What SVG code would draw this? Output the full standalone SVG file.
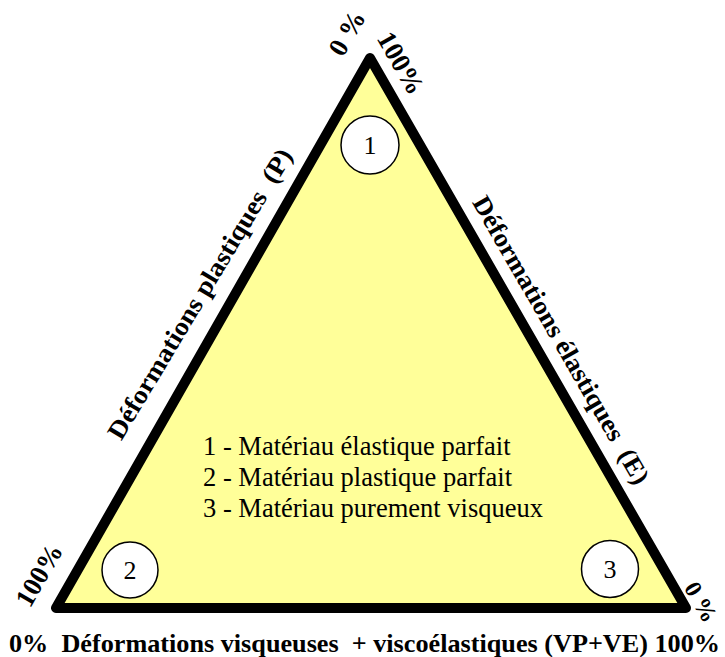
<svg xmlns="http://www.w3.org/2000/svg" width="725" height="657" viewBox="0 0 725 657">
<style>
.b{font-family:"Liberation Serif","Times New Roman",serif;font-weight:bold;fill:#000;white-space:pre}
.r{font-family:"Liberation Serif","Times New Roman",serif;fill:#000}
.c{fill:#fff;stroke:#000;stroke-width:1.5}
</style>
<rect width="725" height="657" fill="#fff"/>
<g id="triangle">
<polygon points="370,58 56,608 686,608" fill="#ffff99" stroke="#000" stroke-width="10" stroke-linejoin="round"/>
</g>
<g id="node1"><circle class="c" cx="370" cy="145" r="29"/><text class="r" x="370" y="154" font-size="26" text-anchor="middle">1</text></g>
<g id="node2"><circle class="c" cx="130" cy="570" r="28"/><text class="r" x="130" y="579" font-size="26" text-anchor="middle">2</text></g>
<g id="node3"><circle class="c" cx="610" cy="569" r="28.5"/><text class="r" x="610" y="578" font-size="26" text-anchor="middle">3</text></g>
<g id="legend">
<text class="r" x="203" y="455" font-size="26.5">1 - Matériau élastique parfait</text>
<text class="r" x="203" y="486" font-size="26.5">2 - Matériau plastique parfait</text>
<text class="r" x="203" y="517" font-size="26.5">3 - Matériau purement visqueux</text>
</g>
<g id="labels">
<text class="b" font-size="26" text-anchor="middle" dominant-baseline="central" transform="translate(200,294) rotate(-59)" textLength="334" lengthAdjust="spacingAndGlyphs">Déformations plastiques  (P)</text>
<text class="b" font-size="26" text-anchor="middle" dominant-baseline="central" transform="translate(561,340) rotate(60)" textLength="328" lengthAdjust="spacingAndGlyphs">Déformations élastiques  (E)</text>
<text class="b" font-size="27" text-anchor="middle" dominant-baseline="central" transform="translate(347,33) rotate(-60)">0 %</text>
<text class="b" font-size="27" text-anchor="middle" dominant-baseline="central" transform="translate(401,63) rotate(60)">100%</text>
<text class="b" font-size="27" text-anchor="middle" dominant-baseline="central" transform="translate(39,575) rotate(-60)">100%</text>
<text class="b" font-size="24" text-anchor="middle" dominant-baseline="central" transform="translate(701,602) rotate(60)">0 %</text>
<text class="b" x="9" y="652" font-size="26" textLength="711" lengthAdjust="spacingAndGlyphs">0%  Déformations visqueuses  + viscoélastiques (VP+VE) 100%</text>
</g>
</svg>
